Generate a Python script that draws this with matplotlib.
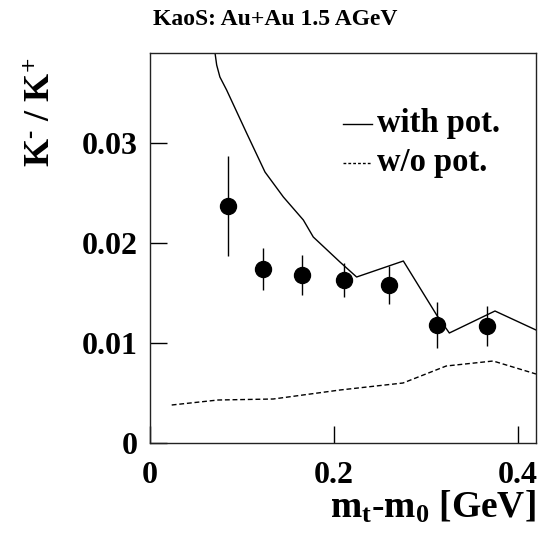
import matplotlib
matplotlib.use("Agg")
import matplotlib.pyplot as plt

# KaoS Au+Au 1.5 AGeV: K-/K+ ratio vs transverse kinetic energy
mt_data = [0.085, 0.123, 0.165, 0.211, 0.260, 0.312, 0.366]
ratio_data = [0.0237, 0.0174, 0.0168, 0.0163, 0.0158, 0.0118, 0.0117]
ratio_err = [0.0050, 0.0021, 0.0020, 0.0017, 0.0019, 0.0023, 0.0020]

# model with kaon potential
mt_pot = [0.0707, 0.0725, 0.0760, 0.0833, 0.105, 0.125, 0.145, 0.1667, 0.1775, 0.2065,
          0.2246, 0.2754, 0.3116, 0.3254, 0.375, 0.4196]
ratio_pot = [0.0390, 0.0378, 0.0366, 0.0353, 0.0310, 0.0271, 0.0246, 0.0223, 0.0206, 0.0181,
             0.0166, 0.0182, 0.0128, 0.0110, 0.0132, 0.0113]

# model without potential
mt_nopot = [0.0236, 0.074, 0.134, 0.2065, 0.275, 0.322, 0.373, 0.4196]
ratio_nopot = [0.0038, 0.0043, 0.0044, 0.0053, 0.0060, 0.0077, 0.0082, 0.0069]

plt.rcParams["font.family"] = ["Liberation Serif", "DejaVu Serif"]
plt.rcParams["font.weight"] = "bold"
plt.rcParams["mathtext.fontset"] = "custom"
plt.rcParams["mathtext.rm"] = "Liberation Serif:bold"
plt.rcParams["mathtext.it"] = "Liberation Serif:bold"
plt.rcParams["mathtext.bf"] = "Liberation Serif:bold"

fig = plt.figure(figsize=(5.45, 5.36), dpi=100)
ax = fig.add_axes([0.2752, 0.1735, 0.7083, 0.7276])

ax.plot(mt_pot, ratio_pot, color="black", lw=1.0)
ax.plot(mt_nopot, ratio_nopot, color="black", lw=1.0, ls=(0, (3.5, 2)))
ax.errorbar(mt_data, ratio_data, yerr=ratio_err, fmt="o", color="black",
            ms=11.5, elinewidth=1.0, capsize=0)

ax.set_xlim(0, 0.4196)
ax.set_ylim(0, 0.039)
ax.set_xticks([0, 0.2, 0.4])
ax.set_xticklabels(["0", "0.2", "0.4"])
ax.set_yticks([0, 0.01, 0.02, 0.03])
ax.set_yticklabels(["0", "0.01", "0.02", "0.03"])
ax.tick_params(direction="in", length=12, width=1.0, labelsize=23, pad=9,
               top=False, right=False)
ax.tick_params(axis="x", pad=13)
for s in ax.spines.values():
    s.set_linewidth(1.0)
    s.set_color("#222222")

# hand-made legend
ax.plot([0.2094, 0.2418], [0.0319, 0.0319], color="black", lw=1.0)
ax.plot([0.2094, 0.2418], [0.0280, 0.0280], color="black", lw=1.0, ls=(0, (2, 1.5)))
ax.text(0.247, 0.0320, "with pot.", fontsize=23.5, fontweight="bold", va="center")
ax.text(0.247, 0.0281, "w/o pot.", fontsize=23.5, fontweight="bold", va="center")

fig.text(0.505, 0.963, "KaoS: Au+Au 1.5 AGeV", fontsize=17, fontweight="bold",
         ha="center", va="center")
fig.text(0.077, 0.79, r"K$^{\text{-}}$ / K$^{+}$", fontsize=26,
         fontweight="bold", rotation=90, ha="center", va="center")
fig.text(0.982, 0.053, r"m$_{\mathregular{t}}$-m$_{\mathregular{0}}$ [GeV]",
         fontsize=27, fontweight="bold", ha="right", va="center")

fig.savefig("out.png", dpi=100)
